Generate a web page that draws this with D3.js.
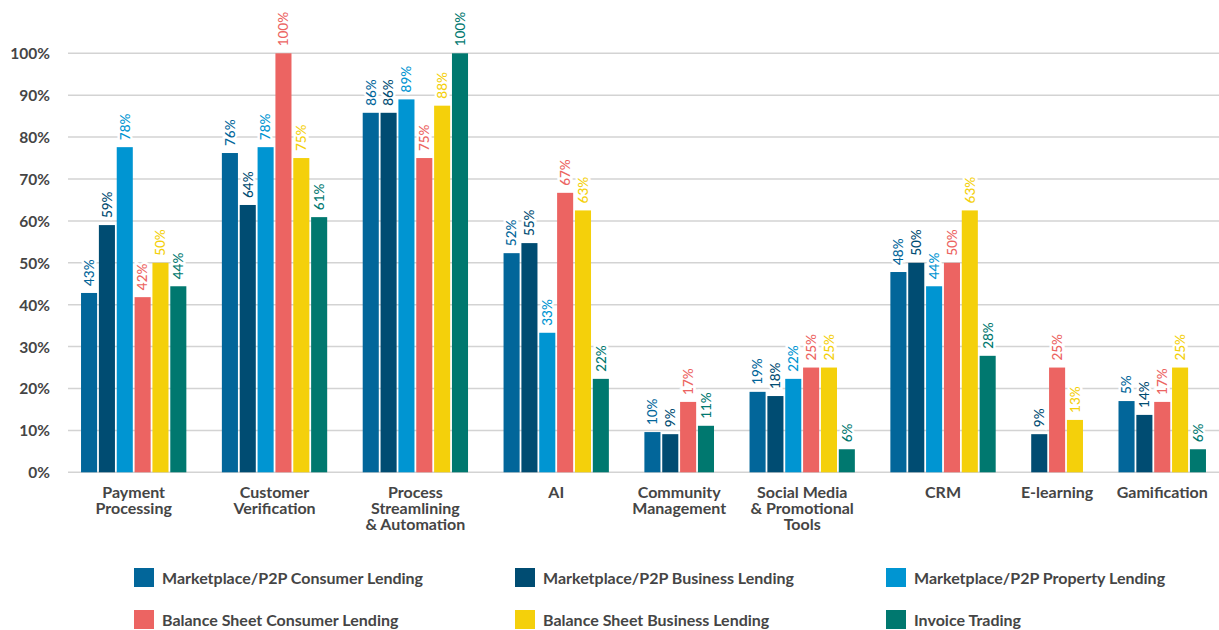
<!DOCTYPE html>
<html>
<head>
<meta charset="utf-8">
<script src="https://cdn.jsdelivr.net/npm/d3@7"></script>
<style>
  html, body { margin: 0; padding: 0; background: #fff; }
  svg { display: block; font-family: Lato, "Open Sans", sans-serif; }
</style>
</head>
<body>
<svg id="chart" width="1219" height="630"></svg>
<script>
// ---- Data ----
const categories = [
  ["Payment", "Processing"],
  ["Customer", "Verification"],
  ["Process", "Streamlining", "& Automation"],
  ["AI"],
  ["Community", "Management"],
  ["Social Media", "& Promotional", "Tools"],
  ["CRM"],
  ["E-learning"],
  ["Gamification"]
];
const seriesNames = [
  "Marketplace/P2P Consumer Lending",
  "Marketplace/P2P Business Lending",
  "Marketplace/P2P Property Lending",
  "Balance Sheet Consumer Lending",
  "Balance Sheet Business Lending",
  "Invoice Trading"
];
const seriesColors = ["#02669a", "#004c72", "#0095d2", "#ec6462", "#f4d00b", "#00786f"];

const p2pConsumer   = [42.8, 76.2, 85.8, 52.3, 9.6, 19.2, 47.8, null, 17];
const p2pBusiness   = [59, 63.8, 85.8, 54.7, 9.1, 18.2, 50, 9.1, 13.7];
const p2pProperty   = [77.6, 77.6, 89, 33.3, null, 22.3, 44.4, null, null];
const bsConsumer    = [41.8, 100, 75, 66.7, 16.8, 25, 50, 25, 16.8];
const bsBusiness    = [50, 75, 87.5, 62.5, null, 25, 62.5, 12.5, 25];
const invoiceTrade  = [44.4, 60.9, 100, 22.3, 11.1, 5.5, 27.8, null, 5.5];
const seriesValues = [p2pConsumer, p2pBusiness, p2pProperty, bsConsumer, bsBusiness, invoiceTrade];

// label shown in the original differs from bar height for this one bar
const labelOverrides = [{ series: 0, category: 8, text: "5%" }];

const yTicks = [0, 10, 20, 30, 40, 50, 60, 70, 80, 90, 100];

// ---- Layout ----
const W = 1219, H = 630;
const plotLeft = 68, plotRight = 1219;
const y0 = 472.3, y100 = 53.3;
const groupGap = 1.89;     // in bar-step units
const barFrac = 0.9;       // bar width as fraction of step
const edgePad = 0.73;

const bars = [];
const groups = [];
let slot = 0;
categories.forEach((cat, ci) => {
  const start = slot;
  let n = 0;
  seriesValues.forEach((vals, si) => {
    const v = vals[ci];
    if (v === null || v === undefined) return;
    const ov = labelOverrides.find(o => o.series === si && o.category === ci);
    bars.push({ ci, si, v, slot, label: ov ? ov.text : Math.round(v) + "%" });
    slot += 1; n += 1;
  });
  groups.push({ ci, start, n });
  slot += groupGap;
});
const lastSlot = slot - groupGap - 1;

const x = d3.scaleLinear()
  .domain([-edgePad, lastSlot + barFrac + edgePad])
  .range([plotLeft, plotRight]);
const bw = x(barFrac) - x(0);

const y = d3.scaleLinear().domain([0, 100]).range([y0, y100]);

const svg = d3.select("#chart");

// y axis labels
const yAxis = d3.axisLeft(y).tickValues(yTicks).tickFormat(d => d + "%").tickSize(0).tickPadding(0);
const gAxis = svg.append("g").attr("transform", `translate(50,0)`).call(yAxis);
gAxis.select(".domain").remove();
gAxis.selectAll("text")
  .attr("x", 0)
  .attr("dy", "0.35em")
  .attr("fill", "#454545")
  .style("font-family", "Lato, sans-serif")
  .style("font-size", "15.5px")
  .style("font-weight", "700")
  .attr("text-anchor", "end");

// gridlines
svg.append("g").selectAll("line")
  .data(yTicks)
  .join("line")
  .attr("x1", plotLeft).attr("x2", plotRight)
  .attr("y1", d => y(d)).attr("y2", d => y(d))
  .attr("stroke", "#d3d3d3")
  .attr("stroke-width", 1.5);

// bars
svg.append("g").selectAll("rect")
  .data(bars)
  .join("rect")
  .attr("x", d => x(d.slot))
  .attr("width", bw)
  .attr("y", d => y(d.v))
  .attr("height", d => y(0) - y(d.v))
  .attr("fill", d => seriesColors[d.si]);

// value labels
svg.append("g").selectAll("text")
  .data(bars)
  .join("text")
  .attr("transform", d => `translate(${x(d.slot) + bw / 2},${y(d.v) - 7}) rotate(-90)`)
  .attr("dy", "0.36em")
  .attr("text-anchor", "start")
  .attr("fill", d => seriesColors[d.si])
  .attr("stroke", "#fff")
  .attr("stroke-width", 5)
  .attr("paint-order", "stroke")
  .style("font-size", "13.5px")
  .style("font-weight", "500")
  .text(d => d.label);

// category labels
const catG = svg.append("g").selectAll("text")
  .data(groups)
  .join("text")
  .attr("x", d => x(d.start + (d.n - 1) / 2 + barFrac / 2))
  .attr("y", 498)
  .attr("text-anchor", "middle")
  .attr("fill", "#454545")
  .style("font-size", "16px")
  .style("font-weight", "700");
catG.selectAll("tspan")
  .data(d => categories[d.ci].map(t => ({ t, x: x(d.start + (d.n - 1) / 2 + barFrac / 2) })))
  .join("tspan")
  .attr("x", d => d.x)
  .attr("dy", (d, i) => i === 0 ? 0 : 16)
  .text(d => d.t);

// legend
const legendCols = [134, 515, 886];
const legendRows = [578, 620];
const leg = svg.append("g").selectAll("g")
  .data(seriesNames)
  .join("g")
  .attr("transform", (d, i) => `translate(${legendCols[i % 3]},${legendRows[Math.floor(i / 3)]})`);
leg.append("rect")
  .attr("x", 0).attr("y", -10)
  .attr("width", 20).attr("height", 19)
  .attr("fill", (d, i) => seriesColors[i]);
leg.append("text")
  .attr("x", 28).attr("y", 0)
  .attr("dy", "0.35em")
  .attr("fill", "#454545")
  .style("font-size", "16px")
  .style("font-weight", "700")
  .text(d => d);
</script>
</body>
</html>
